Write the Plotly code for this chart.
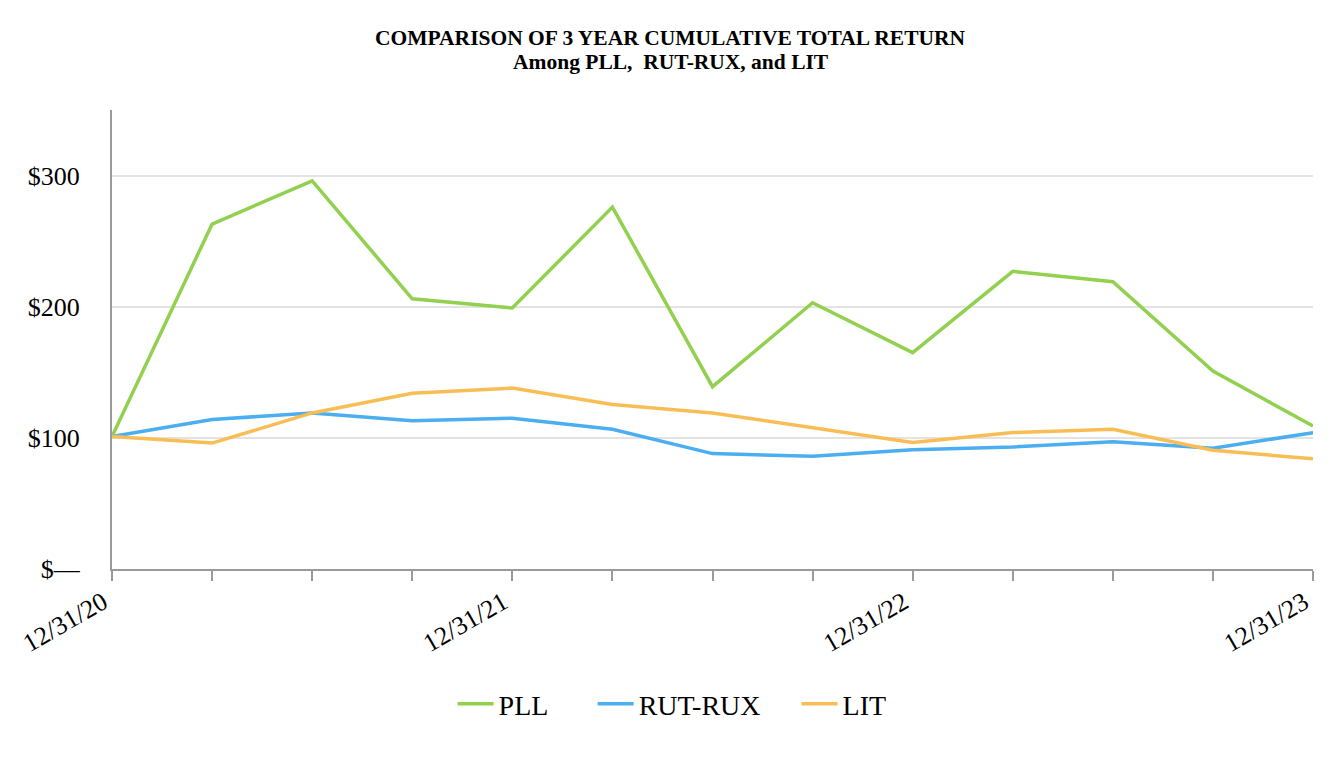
import plotly.graph_objects as go

quarters = ["12/31/20", "3/31/21", "6/30/21", "9/30/21", "12/31/21", "3/31/22",
            "6/30/22", "9/30/22", "12/31/22", "3/31/23", "6/30/23", "9/30/23", "12/31/23"]
pll = [101, 263, 296, 206, 199, 276, 139, 203, 165, 227, 219, 151, 109]
rut_rux = [101, 114, 119, 113, 115, 106.5, 88, 86, 91, 93, 97, 92, 104]
lit = [101, 96, 119, 134, 138, 125.5, 119, 108, 96.5, 104, 106.5, 90.5, 84]

title_lines = ["COMPARISON OF 3 YEAR CUMULATIVE TOTAL RETURN", "Among PLL,  RUT-RUX, and LIT"]

shown_labels = {"12/31/20", "12/31/21", "12/31/22", "12/31/23"}
tick_text = [q if q in shown_labels else "" for q in quarters]
xs = list(range(len(quarters)))

y_vals = [0, 100, 200, 300]
y_text = ["$—", "$100", "$200", "$300"]

serif = "Liberation Serif, Times New Roman, serif"

fig = go.Figure()
series = [("PLL", pll, "#92D04F", "legend", 0.2836),
          ("RUT-RUX", rut_rux, "#4BAEF0", "legend2", 0.4002),
          ("LIT", lit, "#F8BE55", "legend3", 0.570)]
legend_cfg = {}
for name, vals, color, lg, lx in series:
    fig.add_trace(go.Scatter(x=xs, y=vals, mode="lines", name=name, legend=lg,
                             line=dict(color=color, width=3.5)))
    legend_cfg[lg] = dict(orientation="h", x=lx, xanchor="left", y=-0.294, yanchor="middle",
                          font=dict(family=serif, size=28, color="black"), itemwidth=36,
                          bgcolor="rgba(0,0,0,0)")

for text, ty in zip(title_lines, [1.1569, 1.1046]):
    fig.add_annotation(text=f"<b>{text}</b>", xref="paper", yref="paper", x=0.4654, y=ty,
                       xanchor="center", yanchor="middle", showarrow=False,
                       font=dict(family=serif, size=21.5, color="black"))

fig.update_layout(
    width=1344, height=760,
    paper_bgcolor="white", plot_bgcolor="white",
    margin=dict(l=104, r=39, t=102, b=199),
    font=dict(family=serif, color="black"),
    showlegend=True,
    **legend_cfg,
)
fig.update_xaxes(range=[0, 12], tickvals=xs, ticktext=tick_text, tickangle=-30,
                 showgrid=False, showline=True, linecolor="#9a9a9a", linewidth=2,
                 ticks="outside", ticklen=10, tickcolor="#9a9a9a", tickwidth=1.5,
                 ticklabelshift=-9, ticklabelstandoff=-4, automargin=False,
                 tickfont=dict(family=serif, size=26, color="black"), zeroline=False)
fig.update_yaxes(range=[0, 350], tickvals=y_vals, ticktext=y_text,
                 showgrid=True, gridcolor="#e3e3e3", gridwidth=1.5,
                 showline=True, linecolor="#9a9a9a", linewidth=2,
                 ticks="", ticklabelstandoff=25, automargin=False,
                 tickfont=dict(family=serif, size=26, color="black"), zeroline=False)

fig.write_html("out.html")
